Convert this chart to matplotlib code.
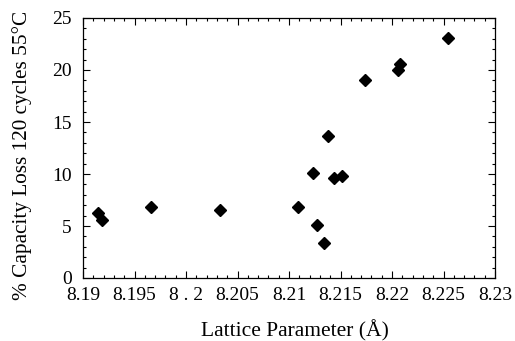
import matplotlib
matplotlib.use("Agg")
import matplotlib.pyplot as plt
from matplotlib.ticker import MultipleLocator, FixedLocator

plt.rcParams['font.family'] = ['Liberation Serif', 'DejaVu Serif']

lattice = [8.19146, 8.19188, 8.19657, 8.20333, 8.21091, 8.21233, 8.21272, 8.21343,
           8.21382, 8.21437, 8.21515, 8.21738, 8.22061, 8.22081, 8.22544]
capacity_loss = [6.25, 5.54, 6.83, 6.57, 6.79, 10.06, 5.10, 3.37,
                 13.62, 9.58, 9.81, 19.01, 20.0, 20.58, 23.04]
x_ticks = [8.19, 8.195, 8.20, 8.205, 8.21, 8.215, 8.22, 8.225, 8.23]
x_tick_labels = ["8.19", "8.195", "8 . 2", "8.205", "8.21", "8.215", "8.22", "8.225", "8.23"]
y_ticks = [0, 5, 10, 15, 20, 25]

fig = plt.figure(figsize=(5.15, 3.41), dpi=100)
ax = fig.add_axes([83/515, 1 - 278/341, (495-83)/515, (278-18)/341])

ax.plot(lattice, capacity_loss, linestyle='none', marker='D', markersize=6.5,
        color='black')

ax.set_xlim(8.19, 8.23)
ax.set_ylim(0, 25)
ax.xaxis.set_major_locator(FixedLocator(x_ticks))
ax.set_xticklabels(x_tick_labels)
ax.xaxis.set_minor_locator(MultipleLocator(0.001))
ax.yaxis.set_major_locator(FixedLocator(y_ticks))
ax.yaxis.set_minor_locator(MultipleLocator(1))

ax.tick_params(which='both', direction='in', top=True, right=True, width=0.8, colors='black')
ax.tick_params(which='major', length=5, labelsize=14)
ax.tick_params(axis='x', which='major', pad=6.5)
ax.tick_params(axis='y', which='major', pad=8)
ax.tick_params(which='minor', length=2.5)
for s in ax.spines.values():
    s.set_linewidth(0.9)

ax.set_xlabel("Lattice Parameter (Å)", fontsize=15.5)
ax.xaxis.set_label_coords(0.515, -0.16)
ax.set_ylabel("% Capacity Loss 120 cycles 55°C", fontsize=15.3)
ax.yaxis.label.set_verticalalignment('center')
ax.yaxis.set_label_coords(-0.148, 0.47)

fig.savefig("out.png", dpi=100)
